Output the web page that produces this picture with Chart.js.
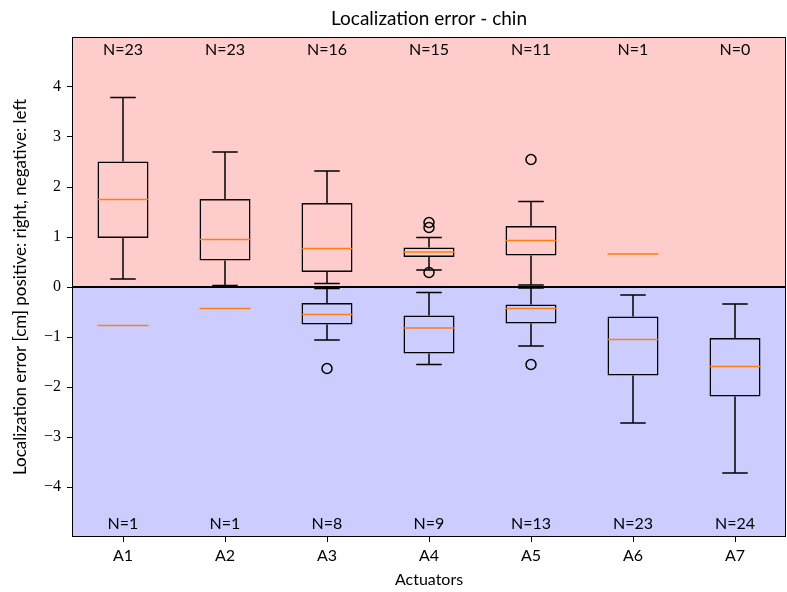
<!DOCTYPE html>
<html>
<head>
<meta charset="utf-8">
<script src="https://cdn.jsdelivr.net/npm/chart.js@4.4.1/dist/chart.umd.min.js"></script>
<style>
  body { margin: 0; background: #fff; }
  canvas { display: block; }
</style>
</head>
<body>
<canvas id="grafico" width="787" height="592"></canvas>
<script>
const categorias = ['A1', 'A2', 'A3', 'A4', 'A5', 'A6', 'A7'];
const ticksY = [-4, -3, -2, -1, 0, 1, 2, 3, 4];

// positive (right) errors
const nPos = [23, 23, 16, 15, 11, 1, 0];
const posBajo = [0.16, 0.03, 0.07, 0.34, 0.04, null, null];
const posQ1 = [0.98, 0.53, 0.30, 0.60, 0.63, null, null];
const posMediana = [1.75, 0.95, 0.77, 0.70, 0.93, 0.66, null];
const posQ3 = [2.51, 1.76, 1.68, 0.79, 1.22, null, null];
const posAlto = [3.79, 2.70, 2.32, 0.99, 1.71, null, null];
const posAtipicos = [
  { x: 'A4', y: 1.29 }, { x: 'A4', y: 1.19 }, { x: 'A4', y: 0.29 },
  { x: 'A5', y: 2.55 }
];

// negative (left) errors
const nNeg = [1, 1, 8, 9, 13, 23, 24];
const negAlto = [null, null, -0.03, -0.11, -0.02, -0.16, -0.34];
const negQ3 = [null, null, -0.32, -0.57, -0.35, -0.59, -1.02];
const negMediana = [-0.77, -0.43, -0.55, -0.82, -0.43, -1.05, -1.59];
const negQ1 = [null, null, -0.75, -1.33, -0.73, -1.77, -2.19];
const negBajo = [null, null, -1.06, -1.55, -1.18, -2.72, -3.72];
const negAtipicos = [
  { x: 'A3', y: -1.63 }, { x: 'A5', y: -1.55 }
];

const grupos = [
  { bajo: posBajo, q1: posQ1, med: posMediana, q3: posQ3, alto: posAlto },
  { bajo: negBajo, q1: negQ1, med: negMediana, q3: negQ3, alto: negAlto }
];

const cajas = (q1, q3) => q1.map((v, i) => (v == null ? null : [v, q3[i]]));

const SANS = 'Lato, "DejaVu Sans", sans-serif';
const SERIF = '"Liberation Serif", "DejaVu Serif", serif';

const fondo = {
  id: 'fondo',
  beforeDatasetsDraw(chart) {
    const { ctx, chartArea: a, scales: { y } } = chart;
    const y0 = y.getPixelForValue(0);
    ctx.save();
    ctx.fillStyle = '#ffcccc';
    ctx.fillRect(a.left, a.top, a.right - a.left, y0 - a.top);
    ctx.fillStyle = '#ccccff';
    ctx.fillRect(a.left, y0, a.right - a.left, a.bottom - y0);
    ctx.restore();
  }
};

const bigotes = {
  id: 'bigotes',
  afterDatasetsDraw(chart) {
    const { ctx, chartArea: a, scales: { x, y } } = chart;
    const paso = x.getPixelForValue(1) - x.getPixelForValue(0);
    ctx.save();
    ctx.lineWidth = 1.5;
    grupos.forEach((g) => {
      categorias.forEach((c, i) => {
        const px = x.getPixelForValue(i);
        if (g.q1[i] != null) {
          ctx.strokeStyle = '#000';
          [[g.q3[i], g.alto[i]], [g.q1[i], g.bajo[i]]].forEach(([desde, hasta]) => {
            ctx.beginPath();
            ctx.moveTo(px, y.getPixelForValue(desde));
            ctx.lineTo(px, y.getPixelForValue(hasta));
            ctx.moveTo(px - paso * 0.125, y.getPixelForValue(hasta));
            ctx.lineTo(px + paso * 0.125, y.getPixelForValue(hasta));
            ctx.stroke();
          });
        }
        if (g.med[i] != null) {
          ctx.strokeStyle = '#ff7f0e';
          ctx.beginPath();
          ctx.moveTo(px - paso * 0.25, y.getPixelForValue(g.med[i]));
          ctx.lineTo(px + paso * 0.25, y.getPixelForValue(g.med[i]));
          ctx.stroke();
        }
      });
    });

    // zero line
    const y0 = y.getPixelForValue(0);
    ctx.strokeStyle = '#000';
    ctx.lineWidth = 2;
    ctx.beginPath();
    ctx.moveTo(a.left, y0);
    ctx.lineTo(a.right, y0);
    ctx.stroke();

    // sample counts
    ctx.fillStyle = '#000';
    ctx.font = '16px ' + SANS;
    ctx.textAlign = 'center';
    ctx.textBaseline = 'middle';
    categorias.forEach((c, i) => {
      const px = x.getPixelForValue(i);
      ctx.fillText('N=' + nPos[i], px, y.getPixelForValue(4.74));
      ctx.fillText('N=' + nNeg[i], px, y.getPixelForValue(-4.74));
    });

    // frame
    ctx.lineWidth = 1;
    ctx.strokeRect(a.left + 0.5, a.top + 0.5, a.right - a.left - 1, a.bottom - a.top - 1);

    // title
    ctx.font = '19px ' + SANS;
    ctx.fillText('Localization error - chin', (a.left + a.right) / 2, 19);
    ctx.restore();
  }
};

const estiloCaja = {
  type: 'bar',
  backgroundColor: 'rgba(0,0,0,0)',
  borderColor: '#000',
  borderWidth: 1.5,
  borderSkipped: false,
  grouped: false,
  barPercentage: 0.5,
  categoryPercentage: 1.0
};

const estiloAtipico = {
  type: 'line',
  showLine: false,
  pointStyle: 'circle',
  pointRadius: 5,
  pointBorderWidth: 1.5,
  pointBackgroundColor: 'rgba(0,0,0,0)',
  pointBorderColor: '#000'
};

new Chart(document.getElementById('grafico').getContext('2d'), {
  type: 'bar',
  data: {
    labels: categorias,
    datasets: [
      { ...estiloCaja, label: 'positive', data: cajas(posQ1, posQ3) },
      { ...estiloCaja, label: 'negative', data: cajas(negQ1, negQ3) },
      { ...estiloAtipico, label: 'positive outliers', data: posAtipicos },
      { ...estiloAtipico, label: 'negative outliers', data: negAtipicos }
    ]
  },
  options: {
    responsive: false,
    animation: false,
    layout: { autoPadding: false, padding: { top: 37, right: 1, left: 0, bottom: 0 } },
    plugins: {
      legend: { display: false },
      tooltip: { enabled: false },
      title: { display: false }
    },
    scales: {
      x: {
        type: 'category',
        offset: true,
        grid: { display: true, drawOnChartArea: false, drawTicks: true, tickLength: 5, color: '#000', offset: false },
        border: { display: false },
        ticks: { color: '#000', font: { family: SANS, size: 16 }, padding: 4, maxRotation: 0 },
        title: { display: true, text: 'Actuators', color: '#000', font: { family: SANS, size: 16 }, padding: { top: 0, bottom: 3 } },
        afterFit(scale) {
          scale.height = 55;
          scale.paddingLeft = 0;
          scale.paddingRight = 0;
        }
      },
      y: {
        type: 'linear',
        min: -5,
        max: 5,
        grid: { display: true, drawOnChartArea: false, drawTicks: true, tickLength: 5, color: '#000' },
        border: { display: false },
        afterBuildTicks(scale) { scale.ticks = ticksY.map((v) => ({ value: v })); },
        ticks: {
          color: '#000',
          font: { family: SERIF, size: 16 },
          padding: 6,
          callback: (v) => (v < 0 ? '\u2212' + Math.abs(v) : String(v))
        },
        title: {
          display: true,
          text: 'Localization error [cm] positive: right, negative: left',
          color: '#000',
          font: { family: SANS, size: 17 },
          padding: { top: 10, bottom: 0 }
        },
        afterFit(scale) { scale.width = 72; }
      }
    }
  },
  plugins: [fondo, bigotes]
});
</script>
</body>
</html>
